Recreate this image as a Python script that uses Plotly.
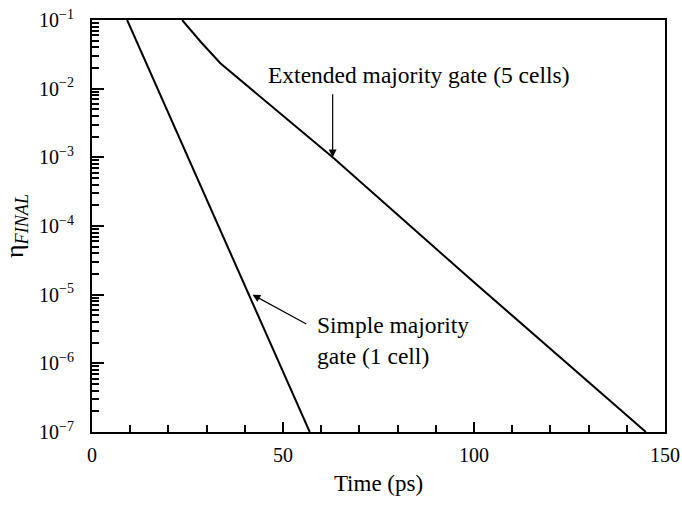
import plotly.graph_objects as go

# Data
simple_t = [9.2, 57.0]
simple_eta = [1e-1, 1e-7]

extended_t = [23.6, 28.5, 33.6, 63.0, 100.0, 145.0]
extended_eta = [1e-1, 10**-1.32, 10**-1.63, 1e-3, 10**-4.82, 1e-7]

y_major = [1e-1, 1e-2, 1e-3, 1e-4, 1e-5, 1e-6, 1e-7]
y_major_text = ["10<sup>−1</sup>", "10<sup>−2</sup>", "10<sup>−3</sup>", "10<sup>−4</sup>",
                "10<sup>−5</sup>", "10<sup>−6</sup>", "10<sup>−7</sup>"]
y_minor = [m * 10.0**e for e in range(-7, -1) for m in range(2, 10)]
x_tickvals = [0, 50, 100, 150]
x_minor = [10, 20, 30, 40, 60, 70, 80, 90, 110, 120, 130, 140]

FONT = "Liberation Serif, Times New Roman, serif"

fig = go.Figure()
fig.add_trace(go.Scatter(x=simple_t, y=simple_eta, mode="lines",
                         line=dict(color="black", width=2), showlegend=False, hoverinfo="skip"))
fig.add_trace(go.Scatter(x=extended_t, y=extended_eta, mode="lines",
                         line=dict(color="black", width=2), showlegend=False, hoverinfo="skip"))

fig.update_layout(
    width=682, height=506,
    margin=dict(l=92, r=17, t=20, b=74),
    paper_bgcolor="white", plot_bgcolor="white",
    font=dict(family=FONT, color="black", size=20),
    xaxis=dict(
        range=[0, 150], tickvals=x_tickvals, ticks="inside", ticklen=10, tickwidth=1.8,
        tickcolor="black", showline=True, linecolor="black", linewidth=2, mirror=True,
        showgrid=False, zeroline=False, ticklabelstandoff=4, automargin=False,
        tickfont=dict(size=20, family=FONT),
        minor=dict(tickmode="array", tickvals=x_minor, ticks="inside", ticklen=7,
                   tickwidth=1.5, tickcolor="black", showgrid=False),
        title=dict(text="Time (ps)", font=dict(size=23, family=FONT), standoff=10),
    ),
    yaxis=dict(
        type="log", range=[-7, -1], tickmode="array", tickvals=y_major, ticktext=y_major_text,
        ticks="inside", ticklen=12, tickwidth=1.8, tickcolor="black",
        showline=True, linecolor="black", linewidth=2, mirror=True,
        showgrid=False, zeroline=False, automargin=False, ticklabelstandoff=12,
        tickfont=dict(size=20, family=FONT),
        minor=dict(tickmode="array", tickvals=y_minor, ticks="inside", ticklen=7,
                   tickwidth=1.5, tickcolor="black", showgrid=False),
        title=dict(text="η<sub><i>FINAL</i></sub>", font=dict(size=26, family=FONT), standoff=12),
    ),
)

# Arrows
fig.add_annotation(x=42, y=-5, ax=56.5, ay=-5.44, xref="x", yref="y", axref="x", ayref="y",
                   text="", showarrow=True, arrowhead=2, arrowsize=1.3, arrowwidth=1.2, arrowcolor="black")
fig.add_annotation(x=63, y=-3, ax=63, ay=-2.06, xref="x", yref="y", axref="x", ayref="y",
                   text="", showarrow=True, arrowhead=2, arrowsize=1.3, arrowwidth=1.2, arrowcolor="black")

# Labels
fig.add_annotation(x=58.3, y=-5.22, xref="x", yref="y", xanchor="left", yanchor="top",
                   text="Simple majority<br>gate (1 cell)", showarrow=False, align="left",
                   font=dict(size=23.5, family=FONT))
fig.add_annotation(x=45.6, y=-1.8, xref="x", yref="y", xanchor="left", yanchor="middle",
                   text="Extended majority gate (5 cells)", showarrow=False, align="left",
                   font=dict(size=23.5, family=FONT))

fig.write_html("out.html", config={"displayModeBar": False},
               post_script="document.body.style.margin='0';")
